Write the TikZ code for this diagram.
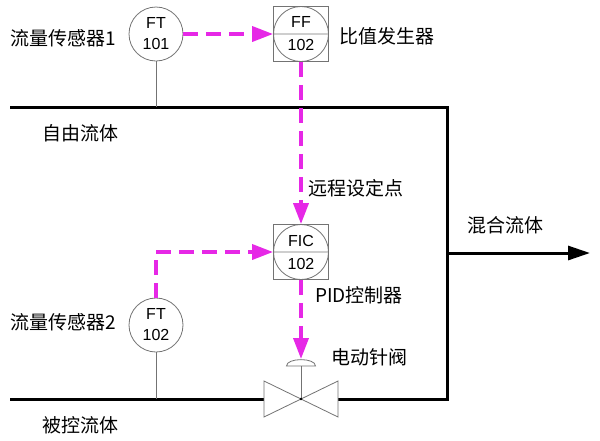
\documentclass[tikz,border=0pt]{standalone}
\usepackage{fontspec}
\setmainfont{Noto Sans CJK SC}
\newfontfamily\tagfont{Liberation Sans}
\usepackage{xcolor}
\usepackage{tikz}
\usetikzlibrary{arrows.meta}
\usetikzlibrary{calc}
\definecolor{sig}{RGB}{230,40,230}
\definecolor{inst}{RGB}{115,115,115}
\tikzstyle{pipe} = [draw, line width=3pt, black]
\tikzstyle{instline} = [draw=inst, line width=0.8pt]
\tikzstyle{tag} = [circle, instline, minimum size=54pt, inner sep=0pt, align=center, font=\tagfont\fontsize{16}{21}\selectfont]
\tikzstyle{ctrl} = [rectangle, instline, minimum size=55pt, inner sep=0pt, align=center, font=\tagfont\fontsize{16}{23}\selectfont]
\tikzstyle{sigline} = [draw=sig, line width=3.6pt, dash pattern=on 15pt off 8pt, -{Triangle[length=21pt,width=15pt,fill=sig]}]
\tikzstyle{txt} = [anchor=west, inner sep=0pt, font=\fontsize{19}{22}\selectfont]

\begin{document}
\begin{tikzpicture}[x=1pt, y=-1pt]
\useasboundingbox (0,0) rectangle (600,440);
\coordinate (ain) at (10,107);
\coordinate (aout) at (447,107);
\coordinate (bin) at (10,399);
\coordinate (bout) at (447,399);
\coordinate (mix) at (447,253);
\coordinate (mixend) at (590,253);
\coordinate (valve) at (301,399);
\coordinate (act) at (301,359);

\node [tag] (ft1) at (156,34) {FT\\101};
\node [ctrl] (ff) at (301,34) {FF\\102};
\node [ctrl] (fic) at (301,252) {FIC\\102};
\node [tag] (ft2) at (156,325) {FT\\102};

\path [instline] (ff.center) circle (27.5pt) (ff.west) -- (ff.east);
\path [instline] (fic.center) circle (27.5pt) (fic.west) -- (fic.east);

\path [pipe] (ain) -- (aout) -- (bout) -- ($(valve)+(37,0)$);
\path [pipe] (bin) -- ($(valve)+(-37,0)$);
\path [pipe, -{Triangle[length=22pt,width=14pt]}] (mix) -- (mixend);

\path [instline] (ft1.south) -- (ft1.south |- ain);
\path [instline] (ft2.south) -- (ft2.south |- bin);

\path [instline, fill=white] ($(valve)+(-37,-18)$) -- ($(valve)+(-37,18)$) -- (valve) -- cycle;
\path [instline, fill=white] ($(valve)+(37,-18)$) -- ($(valve)+(37,18)$) -- (valve) -- cycle;
\path [instline] (valve) -- ($(act)+(0,7)$);
\path [instline, fill=white] ($(act)+(-14.5,7)$) .. controls ($(act)+(-14.5,-1.5)$) and ($(act)+(14.5,-1.5)$) .. ($(act)+(14.5,7)$) -- cycle;
\fill (valve) circle (1.4pt);

\path [sigline] (ft1.east) -- (ff.west);
\path [sigline] (ff.south) -- (fic.north);
\path [sigline] (ft2.north) |- (fic.west);
\path [sigline] (fic.south) -- (act);

\node [txt] at (10,38) {流量传感器1};
\node [txt] at (339,36) {比值发生器};
\node [txt] at (42,133) {自由流体};
\node [txt] at (308,188) {远程设定点};
\node [txt] at (467,225) {混合流体};
\node [txt] at (315,295) {PID控制器};
\node [txt] at (10,322) {流量传感器2};
\node [txt] at (331,357) {电动针阀};
\node [txt] at (42,425) {被控流体};
\end{tikzpicture}
\end{document}
